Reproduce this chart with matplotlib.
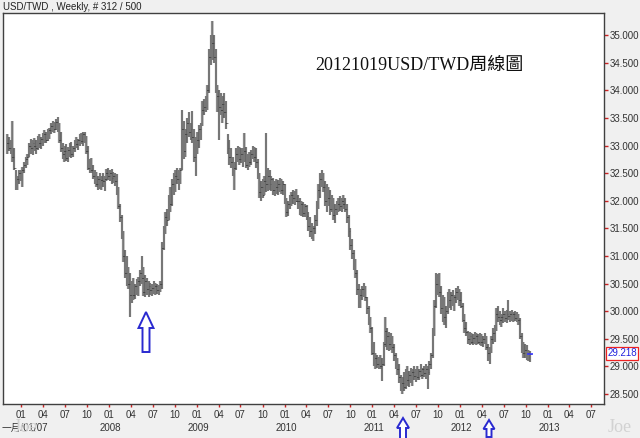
import matplotlib
matplotlib.use("Agg")
import matplotlib.pyplot as plt
import matplotlib.dates as mdates
import numpy as np
import pandas as pd
from matplotlib.patches import Polygon

# ---------------- data (weekly USD/TWD) ----------------
start_date = "2006-11-03"
n_bars = 312

high = [33.20, 33.15, 33.10, 33.45, 32.95, 32.55, 32.45, 32.55, 32.55, 32.62,
        32.70, 32.80, 32.85, 33.05, 33.12, 33.10, 33.14, 33.10, 33.18, 33.20,
        33.15, 33.22, 33.28, 33.25, 33.30, 33.32, 33.40, 33.45, 33.42, 33.48,
        33.52, 33.40, 33.25, 33.05, 33.00, 33.02, 32.98, 33.05, 33.07, 33.00,
        33.10, 33.15, 33.12, 33.20, 33.22, 33.25, 33.25, 33.18, 33.00, 32.75,
        32.78, 32.65, 32.55, 32.52, 32.45, 32.50, 32.45, 32.50, 32.45, 32.58,
        32.60, 32.56, 32.58, 32.52, 32.50, 32.48, 32.25, 31.95, 31.75, 31.45,
        31.10, 31.00, 30.80, 30.70, 30.55, 30.60, 30.50, 30.58, 30.62, 30.75,
        31.00, 30.80, 30.65, 30.60, 30.55, 30.52, 30.50, 30.55, 30.52, 30.50,
        30.48, 30.55, 31.25, 31.55, 31.80, 31.85, 32.10, 32.25, 32.40, 32.50,
        32.56, 32.60, 32.55, 32.60, 33.65, 33.45, 33.30, 33.50, 33.60, 33.40,
        33.62, 33.30, 33.15, 33.25, 33.38, 33.40, 33.80, 33.85, 33.90, 34.10,
        34.75, 35.00, 35.25, 35.00, 34.75, 34.10, 34.00, 33.95, 33.90, 33.95,
        33.80, 33.20, 33.10, 32.95, 32.80, 32.70, 32.95, 33.00, 32.98, 32.95,
        32.95, 33.23, 32.98, 32.85, 32.88, 32.92, 33.00, 32.98, 32.95, 32.75,
        32.50, 32.35, 32.40, 32.45, 33.23, 32.60, 32.55, 32.45, 32.42, 32.35,
        32.40, 32.38, 32.42, 32.40, 32.35, 32.30, 32.05, 32.00, 32.10, 32.15,
        32.20, 32.18, 32.22, 32.10, 32.05, 32.00, 31.98, 31.95, 31.92, 31.80,
        31.70, 31.60, 31.55, 31.75, 32.00, 32.30, 32.50, 32.56, 32.50, 32.35,
        32.30, 32.25, 32.20, 32.10, 32.05, 31.95, 32.00, 32.05, 32.08, 32.05,
        32.10, 32.05, 31.95, 31.75, 31.50, 31.30, 31.10, 30.95, 30.75, 30.50,
        30.40, 30.45, 30.52, 30.45, 30.25, 30.10, 29.90, 29.72, 29.45, 29.25,
        29.20, 29.18, 29.20, 29.15, 29.45, 29.90, 29.70, 29.62, 29.60, 29.55,
        29.40, 29.25, 29.15, 29.05, 28.85, 28.80, 28.90, 28.95, 29.00, 28.92,
        28.98, 28.95, 29.00, 28.95, 29.00, 28.95, 29.05, 28.98, 29.00, 29.05,
        29.00, 29.10, 29.25, 29.70, 30.20, 30.70, 30.68, 30.70, 30.45, 30.30,
        30.25, 30.10, 30.35, 30.40, 30.35, 30.38, 30.30, 30.42, 30.45, 30.40,
        30.35, 30.15, 29.95, 29.80, 29.65, 29.62, 29.60, 29.58, 29.62, 29.60,
        29.58, 29.60, 29.58, 29.55, 29.60, 29.55, 29.40, 29.35, 29.55, 29.70,
        29.75, 30.05, 30.10, 30.00, 29.95, 30.05, 30.00, 30.02, 30.20, 30.00,
        30.02, 29.98, 30.00, 29.98, 29.95, 29.88, 29.60, 29.45, 29.40, 29.38,
        29.30, 29.28]

low = [32.85, 32.90, 32.85, 32.70, 32.55, 32.20, 32.20, 32.30, 32.35, 32.25,
       32.50, 32.60, 32.65, 32.80, 32.85, 32.83, 32.90, 32.85, 32.92, 32.95,
       32.93, 33.00, 33.05, 33.05, 33.08, 33.12, 33.20, 33.25, 33.22, 33.28,
       33.25, 33.05, 32.88, 32.75, 32.70, 32.72, 32.70, 32.80, 32.78, 32.80,
       32.88, 32.95, 32.92, 33.00, 33.02, 33.00, 33.05, 32.85, 32.55, 32.50,
       32.50, 32.40, 32.30, 32.25, 32.20, 32.22, 32.20, 32.25, 32.18, 32.35,
       32.38, 32.35, 32.30, 32.32, 32.26, 32.10, 31.85, 31.62, 31.30, 30.90,
       30.60, 30.45, 30.40, 29.90, 30.15, 30.20, 30.22, 30.30, 30.28, 30.45,
       30.50, 30.27, 30.25, 30.30, 30.25, 30.30, 30.28, 30.32, 30.30, 30.32,
       30.30, 30.35, 30.40, 31.10, 31.40, 31.55, 31.65, 31.80, 31.90, 32.10,
       32.15, 32.30, 32.20, 32.30, 32.55, 32.75, 32.80, 33.05, 33.15, 33.10,
       33.05, 32.70, 32.45, 32.85, 32.95, 33.10, 33.35, 33.55, 33.60, 33.65,
       33.95, 34.45, 34.55, 34.50, 33.95, 33.60, 33.10, 33.55, 33.40, 33.50,
       33.30, 32.85, 32.65, 32.60, 32.45, 32.20, 32.55, 32.70, 32.65, 32.68,
       32.62, 32.70, 32.60, 32.55, 32.62, 32.65, 32.75, 32.70, 32.60, 32.40,
       32.05, 32.00, 32.05, 32.10, 32.15, 32.18, 32.20, 32.17, 32.10, 32.08,
       32.12, 32.10, 32.15, 32.12, 32.10, 31.95, 31.70, 31.72, 31.85, 31.90,
       31.95, 31.92, 31.98, 31.85, 31.75, 31.72, 31.70, 31.70, 31.65, 31.45,
       31.35, 31.30, 31.28, 31.40, 31.55, 31.85, 32.05, 32.25, 32.15, 31.90,
       31.80, 31.90, 31.75, 31.80, 31.65, 31.60, 31.75, 31.80, 31.82, 31.80,
       31.85, 31.80, 31.60, 31.35, 31.10, 30.95, 30.75, 30.60, 30.30, 30.05,
       30.05, 30.20, 30.25, 30.18, 29.95, 29.75, 29.60, 29.20, 29.00, 28.95,
       28.98, 28.95, 28.95, 28.74, 29.00, 29.35, 29.30, 29.28, 29.30, 29.25,
       29.10, 28.95, 28.85, 28.70, 28.55, 28.50, 28.55, 28.60, 28.65, 28.62,
       28.70, 28.65, 28.75, 28.72, 28.75, 28.75, 28.80, 28.78, 28.80, 28.78,
       28.60, 28.85, 28.95, 29.15, 29.55, 30.05, 30.30, 30.25, 29.95, 29.80,
       29.75, 29.70, 29.95, 30.05, 30.02, 30.10, 30.00, 30.15, 30.20, 30.10,
       30.05, 29.80, 29.60, 29.55, 29.40, 29.38, 29.40, 29.38, 29.40, 29.38,
       29.40, 29.38, 29.37, 29.35, 29.40, 29.30, 29.10, 29.04, 29.25, 29.40,
       29.45, 29.65, 29.80, 29.75, 29.72, 29.78, 29.80, 29.78, 29.85, 29.80,
       29.82, 29.80, 29.82, 29.80, 29.75, 29.50, 29.25, 29.15, 29.15, 29.12,
       29.10, 29.08]

close = [33.05, 32.95, 32.95, 32.80, 32.60, 32.30, 32.40, 32.50, 32.45, 32.55,
         32.65, 32.75, 32.80, 33.00, 32.95, 33.05, 33.00, 32.95, 33.10, 33.05,
         33.12, 33.15, 33.20, 33.10, 33.25, 33.28, 33.35, 33.40, 33.30, 33.42,
         33.35, 33.10, 32.95, 32.85, 32.90, 32.78, 32.92, 33.00, 32.85, 32.95,
         33.05, 33.02, 33.10, 33.15, 33.08, 33.20, 33.15, 32.90, 32.60, 32.70,
         32.55, 32.45, 32.50, 32.30, 32.40, 32.28, 32.38, 32.35, 32.40, 32.50,
         32.45, 32.50, 32.42, 32.45, 32.35, 32.15, 31.90, 31.70, 31.35, 31.00,
         30.70, 30.55, 30.50, 30.30, 30.40, 30.30, 30.45, 30.35, 30.55, 30.70,
         30.60, 30.35, 30.55, 30.40, 30.45, 30.38, 30.42, 30.40, 30.45, 30.38,
         30.42, 30.50, 31.15, 31.45, 31.70, 31.65, 32.00, 31.95, 32.30, 32.20,
         32.45, 32.40, 32.50, 32.55, 33.30, 32.90, 33.20, 33.40, 33.25, 33.30,
         33.15, 32.80, 32.95, 33.10, 33.30, 33.35, 33.65, 33.70, 33.85, 34.00,
         34.60, 34.70, 34.85, 34.60, 34.05, 33.90, 33.70, 33.65, 33.75, 33.60,
         33.40, 32.95, 32.80, 32.70, 32.55, 32.60, 32.85, 32.90, 32.75, 32.85,
         32.70, 32.90, 32.65, 32.80, 32.70, 32.85, 32.90, 32.80, 32.70, 32.45,
         32.15, 32.25, 32.10, 32.35, 32.30, 32.45, 32.30, 32.40, 32.20, 32.30,
         32.25, 32.30, 32.35, 32.20, 32.30, 32.00, 31.80, 31.95, 32.05, 32.10,
         32.05, 32.15, 32.00, 32.00, 31.85, 31.95, 31.78, 31.90, 31.72, 31.55,
         31.45, 31.40, 31.50, 31.65, 31.90, 32.20, 32.40, 32.35, 32.25, 32.00,
         32.15, 32.05, 31.85, 32.00, 31.75, 31.85, 31.90, 31.95, 31.90, 32.00,
         31.95, 31.85, 31.70, 31.45, 31.20, 31.05, 30.85, 30.70, 30.40, 30.15,
         30.30, 30.40, 30.35, 30.25, 30.05, 29.85, 29.70, 29.25, 29.10, 29.15,
         29.05, 29.10, 29.00, 29.05, 29.40, 29.65, 29.55, 29.40, 29.50, 29.35,
         29.20, 29.05, 28.95, 28.80, 28.65, 28.70, 28.62, 28.85, 28.75, 28.85,
         28.78, 28.90, 28.82, 28.88, 28.80, 28.92, 28.85, 28.95, 28.88, 28.95,
         28.90, 29.05, 29.20, 29.60, 30.10, 30.50, 30.45, 30.35, 30.05, 30.15,
         29.90, 30.00, 30.25, 30.20, 30.30, 30.15, 30.25, 30.35, 30.30, 30.20,
         30.10, 29.85, 29.70, 29.62, 29.50, 29.55, 29.45, 29.52, 29.48, 29.55,
         29.45, 29.50, 29.45, 29.50, 29.48, 29.35, 29.25, 29.30, 29.50, 29.60,
         29.70, 29.95, 29.90, 29.85, 29.90, 29.95, 29.88, 29.95, 29.92, 29.95,
         29.90, 29.95, 29.88, 29.92, 29.85, 29.55, 29.30, 29.25, 29.30, 29.20,
         29.25, 29.218]

first_open = 33.10
last_price = 29.218

y_ticks = [28.5, 29.0, 29.5, 30.0, 30.5, 31.0, 31.5, 32.0, 32.5, 33.0, 33.5, 34.0, 34.5, 35.0]
month_labels = ["01", "04", "07", "10"]
year_labels = ["一月/01/07", "2008", "2009", "2010", "2011", "2012", "2013"]
years = [2007, 2008, 2009, 2010, 2011, 2012, 2013]
title_text = "USD/TWD , Weekly, # 312 / 500"
chart_note = "20121019USD/TWD周線圖"

# ---------------- figure ----------------
W, H = 640, 438
fig = plt.figure(figsize=(W / 100, H / 100), dpi=100, facecolor="#f0f0f0")

def px_box(x0, y0, x1, y1):
    return [x0 / W, 1 - y1 / H, (x1 - x0) / W, (y1 - y0) / H]

ax = fig.add_axes(px_box(3, 13, 604, 404))
ax.set_facecolor("white")

dates = pd.date_range(start_date, periods=n_bars, freq="W-FRI")
xd = mdates.date2num(dates.to_pydatetime())
opens = [first_open] + close[:-1]

ax.vlines(xd, low, high, color="#8a8a8a", linewidth=1.6, zorder=2)
ax.vlines(xd + 1.2, low, high, color="#3c3c3c", linewidth=0.35, zorder=3)
ax.hlines(close, xd, xd + 3.0, color="#1a1a1a", linewidth=0.7, zorder=4)
ax.hlines(opens, xd - 3.0, xd, color="#555555", linewidth=0.5, zorder=4)

# last price marker
ax.hlines([last_price], xd[-1] - 14, xd[-1] + 14, color="#3a3aff", linewidth=1.2, zorder=5)

x_left = mdates.date2num(pd.Timestamp("2006-10-16"))
x_right = mdates.date2num(pd.Timestamp("2013-08-23"))
ax.set_xlim(x_left, x_right)
ax.set_ylim(28.32, 35.40)

for s in ax.spines.values():
    s.set_color("#404040")
    s.set_linewidth(1.0)

# y axis on the right
ax.yaxis.tick_right()
ax.set_yticks(y_ticks)
ax.set_yticklabels([f"{v:.3f}" for v in y_ticks])
ax.tick_params(axis="y", direction="out", length=3, width=1, colors="#cc2222",
               labelcolor="#333333", labelsize=7, pad=1)
for lab in ax.get_yticklabels():
    lab.set_family("Liberation Sans")

# x axis: quarter ticks
qdates = pd.date_range("2007-01-01", "2013-07-01", freq="QS")
qx = mdates.date2num(qdates.to_pydatetime())
ax.set_xticks(qx)
ax.set_xticklabels([month_labels[(d.month - 1) // 3] for d in qdates])
ax.tick_params(axis="x", direction="out", length=2.5, width=1, colors="#cc2222",
               labelcolor="#333333", labelsize=7, pad=1.5)
for lab in ax.get_xticklabels():
    lab.set_family("Liberation Sans")

trans = ax.get_xaxis_transform()
for yr, lab in zip(years, year_labels):
    xx = mdates.date2num(pd.Timestamp(f"{yr}-01-01"))
    ax.text(xx + (14 if yr == 2007 else 6), -0.062, lab, transform=trans, ha="center", va="center",
            fontsize=7, color="#333333", family=["Liberation Sans", "Noto Sans CJK TC"],
            clip_on=False, zorder=5)

# current price box
fig.text(622 / W, 1 - 353.5 / H, f"{last_price:.3f}", ha="center", va="center",
         fontsize=7, color="#2222dd", family="Liberation Sans",
         bbox=dict(boxstyle="square,pad=0.15", facecolor="white", edgecolor="#ee2222", linewidth=0.9))

# header and note
fig.text(3 / W, 1 - 6.5 / H, title_text, ha="left", va="center", fontsize=7,
         color="#222222", family="Liberation Sans")
fig.text(419 / W, 1 - 65 / H, chart_note, ha="center", va="center", fontsize=13,
         color="#111111", family=["Liberation Serif", "Noto Sans CJK TC"])

# watermarks
fig.text(26 / W, 1 - 428 / H, "Joe", ha="center", va="center", fontsize=13,
         color="#d2d2d2", family="Liberation Serif", zorder=0)
fig.text(620 / W, 1 - 428 / H, "Joe", ha="center", va="center", fontsize=13,
         color="#d2d2d2", family="Liberation Serif", zorder=0)

# blue outline arrows (pixel coordinates)
def up_arrow(cx, ytip, ybot, head_w, shaft_w, head_h):
    pts = [(cx, ytip), (cx + head_w / 2, ytip + head_h), (cx + shaft_w / 2, ytip + head_h),
           (cx + shaft_w / 2, ybot), (cx - shaft_w / 2, ybot), (cx - shaft_w / 2, ytip + head_h),
           (cx - head_w / 2, ytip + head_h)]
    pts = [(x / W, 1 - y / H) for x, y in pts]
    fig.patches.append(Polygon(pts, closed=True, transform=fig.transFigure, facecolor="white",
                               edgecolor="#2a2ad0", linewidth=1.4, zorder=10))

up_arrow(146, 312, 352, 15, 7, 16)
up_arrow(403, 418, 440, 12, 6, 10)
up_arrow(489, 420, 437, 11, 5, 9)

fig.savefig("out.png", dpi=100, facecolor=fig.get_facecolor())
